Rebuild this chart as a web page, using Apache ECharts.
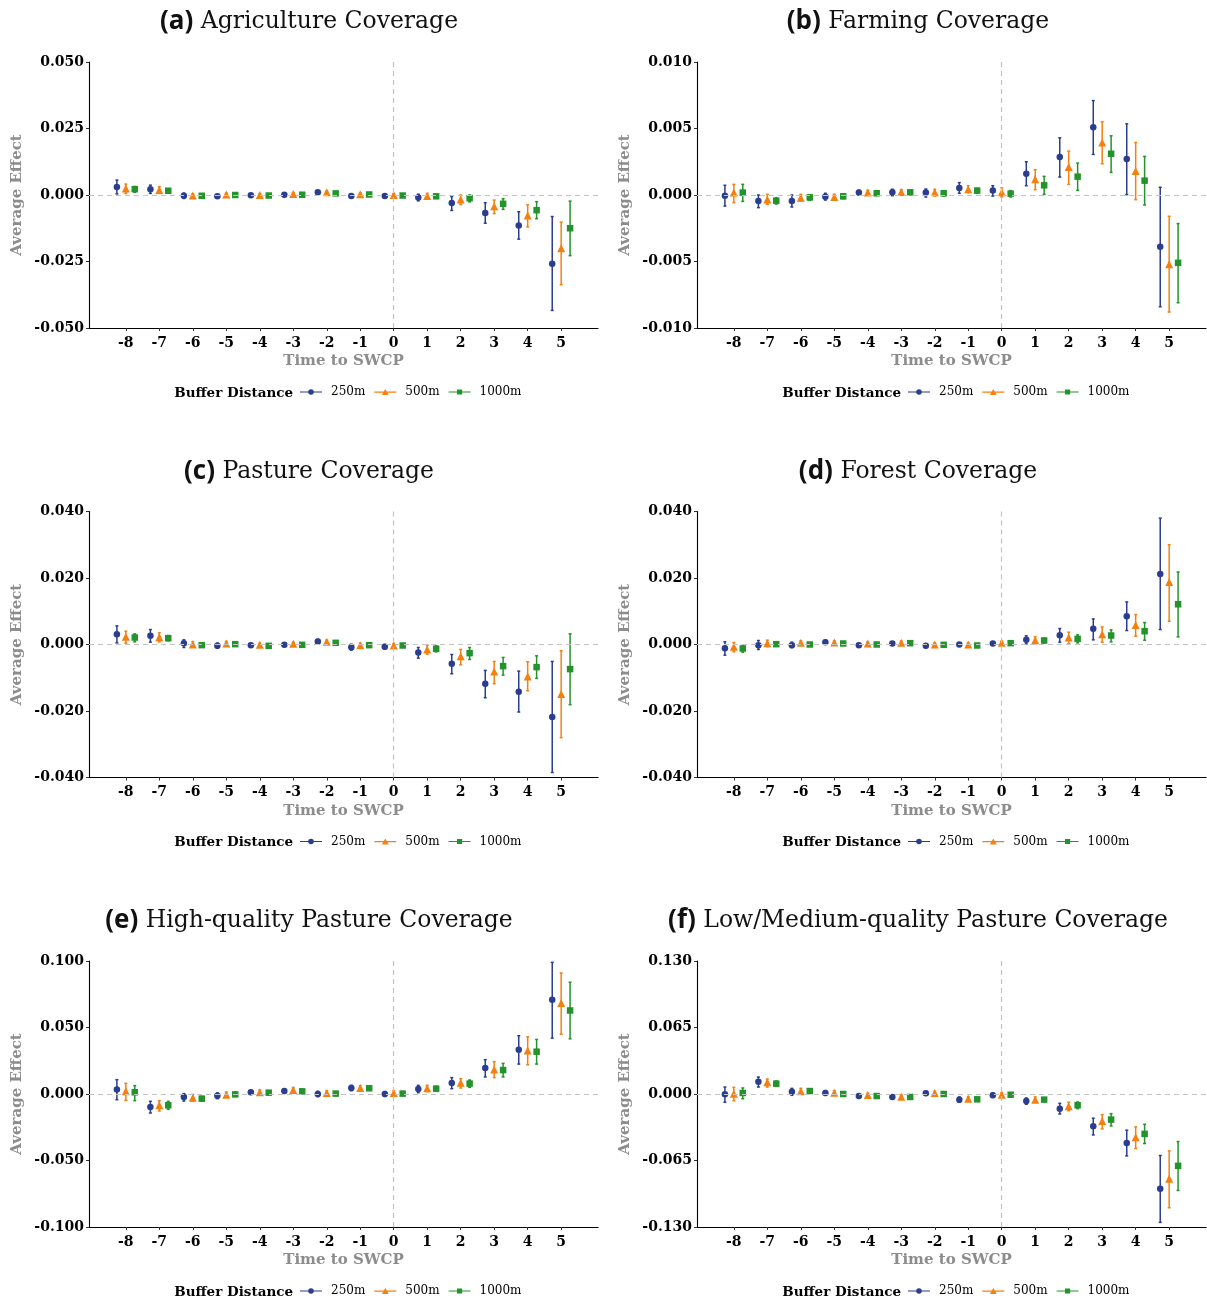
<!DOCTYPE html>
<html>
<head>
<meta charset="utf-8">
<script src="https://cdn.jsdelivr.net/npm/echarts@6/dist/echarts.min.js"></script>
<style>
  html, body { margin: 0; background: #fff; }
  #chart { width: 1207px; height: 1304px; }
</style>
</head>
<body>
<div id="chart"></div>
<script>
// event time and buffer groups
const periods = [-8, -7, -6, -5, -4, -3, -2, -1, 0, 1, 2, 3, 4, 5]
const buffers = ['250m', '500m', '1000m']

// y tick labels per panel
const agriTicks = [-0.05, -0.025, 0, 0.025, 0.05]
const farmTicks = [-0.01, -0.005, 0, 0.005, 0.01]
const pastureTicks = [-0.04, -0.02, 0, 0.02, 0.04]
const forestTicks = [-0.04, -0.02, 0, 0.02, 0.04]
const hqTicks = [-0.1, -0.05, 0, 0.05, 0.1]
const lmqTicks = [-0.13, -0.065, 0, 0.065, 0.13]

// [estimate, ci low, ci high] for each period
const agri250 = [[0.003, 0.0004, 0.0056], [0.0022, 0.0006, 0.0037], [-0.0003, -0.0013, 0.0007], [-0.0005, -0.0011, 0.0001], [-0.0001, -0.0006, 0.0004], [0.0001, -0.0004, 0.0006], [0.001, 0.0004, 0.0016], [-0.0004, -0.001, 0.0002], [-0.0004, -0.001, 0.0002], [-0.0009, -0.0022, 0.0003], [-0.003, -0.0058, -0.0006], [-0.0068, -0.0106, -0.0029], [-0.0115, -0.0166, -0.0063], [-0.0258, -0.0434, -0.0081]]
const agri500 = [[0.0024, 0.0006, 0.0041], [0.0019, 0.0006, 0.0031], [-0.0002, -0.0008, 0.0004], [0.0002, -0.0003, 0.0007], [0, -0.0005, 0.0005], [0.0004, -0.0001, 0.0009], [0.001, 0.0005, 0.0015], [0.0003, -0.0002, 0.0008], [0, -0.0005, 0.0005], [-0.0004, -0.0014, 0.0006], [-0.0017, -0.0036, 0], [-0.0042, -0.007, -0.0019], [-0.0077, -0.012, -0.0037], [-0.02, -0.0337, -0.0102]]
const agri1000 = [[0.0022, 0.001, 0.0032], [0.0016, 0.0009, 0.0023], [-0.0003, -0.0007, 0.0001], [0, -0.0004, 0.0004], [-0.0002, -0.0006, 0.0002], [0.0001, -0.0003, 0.0005], [0.0006, 0.0002, 0.001], [0.0002, -0.0002, 0.0006], [-0.0002, -0.0006, 0.0002], [-0.0005, -0.001, 0], [-0.0012, -0.0026, 0], [-0.0033, -0.0054, -0.0014], [-0.0057, -0.0089, -0.0025], [-0.0125, -0.0228, -0.0023]]

const farm250 = [[-0.00005, -0.00083, 0.00073], [-0.00045, -0.00095, 0], [-0.00045, -0.0009, 0], [-0.00013, -0.00038, 0.00013], [0.00018, 0, 0.00035], [0.0002, -0.00005, 0.00043], [0.00018, -0.00015, 0.00045], [0.00053, 0.00013, 0.00093], [0.00033, -0.00008, 0.0007], [0.0016, 0.0007, 0.0025], [0.00285, 0.00135, 0.0043], [0.0051, 0.00305, 0.0071], [0.0027, 0.00003, 0.00535], [-0.0039, -0.0084, 0.00058]]
const farm500 = [[0.00018, -0.00058, 0.0008], [-0.00033, -0.0007, 0.00005], [-0.0002, -0.00045, 0.00005], [-0.00015, -0.00038, 0.00005], [0.00018, 0, 0.00035], [0.00023, 0.00003, 0.0004], [0.0002, -0.00008, 0.00043], [0.00043, 0.00018, 0.0007], [0.0002, -0.00015, 0.00053], [0.00118, 0.0004, 0.0019], [0.0021, 0.0008, 0.0033], [0.00395, 0.00235, 0.0055], [0.0018, -0.00035, 0.00395], [-0.0052, -0.0088, -0.0016]]
const farm1000 = [[0.00018, -0.00048, 0.0008], [-0.00043, -0.00068, -0.0002], [-0.00018, -0.0004, 0.00003], [-0.0001, -0.00028, 0.00008], [0.00013, -0.00003, 0.00025], [0.0002, 0.00003, 0.00035], [0.00013, -0.00008, 0.0003], [0.00033, 0.00013, 0.0005], [0.0001, -0.00015, 0.00033], [0.00073, 0.00005, 0.0014], [0.00138, 0.00035, 0.0024], [0.0031, 0.0017, 0.00445], [0.00108, -0.00075, 0.0029], [-0.0051, -0.0081, -0.00215]]

const pasture250 = [[0.0031, 0.0005, 0.0056], [0.0026, 0.0007, 0.0045], [0.0004, -0.0009, 0.0014], [-0.0004, -0.0011, 0.0004], [-0.0002, -0.0007, 0.0003], [-0.0001, -0.0006, 0.0004], [0.0009, 0.0003, 0.0015], [-0.0008, -0.0017, 0.0001], [-0.0007, -0.0014, 0], [-0.0024, -0.0041, -0.0009], [-0.0058, -0.0088, -0.003], [-0.0118, -0.016, -0.0078], [-0.0142, -0.0203, -0.008], [-0.0218, -0.0385, -0.0051]]
const pasture500 = [[0.0023, 0.0004, 0.004], [0.0022, 0.0008, 0.0035], [0, -0.0008, 0.0009], [0.0003, -0.0003, 0.0009], [-0.0001, -0.0006, 0.0004], [0.0002, -0.0003, 0.0007], [0.0008, 0.0003, 0.0013], [-0.0002, -0.0008, 0.0004], [-0.0003, -0.0009, 0.0003], [-0.0015, -0.0029, -0.0002], [-0.0035, -0.0061, -0.0015], [-0.0081, -0.0118, -0.0051], [-0.0096, -0.0139, -0.0052], [-0.0149, -0.028, -0.0019]]
const pasture1000 = [[0.0021, 0.0008, 0.0032], [0.0019, 0.0011, 0.0027], [-0.0002, -0.0006, 0.0002], [0.0001, -0.0003, 0.0005], [-0.0004, -0.0008, 0], [-0.0001, -0.0005, 0.0003], [0.0005, 0.0001, 0.0009], [-0.0002, -0.0006, 0.0002], [-0.0003, -0.0007, 0.0001], [-0.0013, -0.0022, -0.0004], [-0.0026, -0.0045, -0.0009], [-0.0065, -0.0092, -0.0039], [-0.0068, -0.0102, -0.0034], [-0.0074, -0.0181, 0.0032]]

const forest250 = [[-0.0011, -0.0032, 0.0008], [-0.0002, -0.0015, 0.0012], [-0.0002, -0.0009, 0.0007], [0.0007, 0.0002, 0.0013], [-0.0002, -0.0007, 0.0003], [0.0003, -0.0002, 0.0008], [-0.0004, -0.0009, 0.0001], [0, -0.0005, 0.0005], [0.0003, -0.0002, 0.0008], [0.0014, 0.0002, 0.0026], [0.0028, 0.0007, 0.0048], [0.0047, 0.0014, 0.0077], [0.0085, 0.0042, 0.0128], [0.0212, 0.0045, 0.038]]
const forest500 = [[-0.0007, -0.0022, 0.0006], [0.0004, -0.0006, 0.0013], [0.0005, -0.0002, 0.0011], [0.0006, 0.0001, 0.0011], [0.0003, -0.0002, 0.0008], [0.0005, 0, 0.001], [0, -0.0005, 0.0005], [0, -0.0005, 0.0005], [0.0005, 0, 0.001], [0.0013, 0.0003, 0.0023], [0.0021, 0.0002, 0.0037], [0.0031, 0.0007, 0.0053], [0.0059, 0.0025, 0.009], [0.0188, 0.007, 0.03]]
const forest1000 = [[-0.0012, -0.0023, -0.0003], [0.0001, -0.0003, 0.0005], [0, -0.0004, 0.0004], [0.0003, -0.0001, 0.0007], [0, -0.0004, 0.0004], [0.0004, 0, 0.0008], [-0.0001, -0.0005, 0.0003], [-0.0003, -0.0007, 0.0001], [0.0004, 0, 0.0008], [0.0012, 0.0005, 0.0019], [0.0017, 0.0005, 0.0029], [0.0027, 0.0008, 0.0044], [0.004, 0.0013, 0.0066], [0.0121, 0.0023, 0.0218]]

const hq250 = [[0.0033, -0.0043, 0.0108], [-0.0098, -0.0143, -0.0055], [-0.0023, -0.0053, 0.0003], [-0.0013, -0.0035, 0.0008], [0.0013, -0.0003, 0.0028], [0.0023, 0.0005, 0.0038], [0, -0.002, 0.002], [0.0045, 0.0025, 0.0065], [0, -0.0018, 0.0018], [0.0038, 0.001, 0.0065], [0.0083, 0.004, 0.0123], [0.0195, 0.0128, 0.0258], [0.0333, 0.0225, 0.0438], [0.0708, 0.042, 0.099]]
const hq500 = [[0.002, -0.0048, 0.008], [-0.0085, -0.0128, -0.005], [-0.0028, -0.0055, -0.0003], [-0.0005, -0.0025, 0.0015], [0.0013, -0.0005, 0.003], [0.003, 0.0013, 0.0048], [0.0008, -0.001, 0.0025], [0.0045, 0.0028, 0.0063], [0.0008, -0.001, 0.0025], [0.0043, 0.0018, 0.0065], [0.0085, 0.0045, 0.0115], [0.0185, 0.0123, 0.0243], [0.0328, 0.022, 0.043], [0.0685, 0.045, 0.091]]
const hq1000 = [[0.0013, -0.005, 0.0063], [-0.0085, -0.0115, -0.0055], [-0.0035, -0.0053, -0.0018], [-0.0003, -0.0018, 0.0013], [0.001, -0.0005, 0.0025], [0.002, 0.0005, 0.0035], [0.0003, -0.0012, 0.0018], [0.0043, 0.0028, 0.0058], [0.0003, -0.0012, 0.0018], [0.004, 0.0023, 0.0058], [0.0078, 0.005, 0.0105], [0.018, 0.0128, 0.023], [0.0318, 0.0225, 0.041], [0.0628, 0.0415, 0.084]]

const lmq250 = [[-0.0003, -0.0081, 0.0068], [0.012, 0.0068, 0.0166], [0.0023, -0.0013, 0.0055], [0.001, -0.0013, 0.0033], [-0.002, -0.0036, -0.0004], [-0.0029, -0.0045, -0.0013], [0.0007, -0.0013, 0.0026], [-0.0055, -0.0081, -0.0029], [-0.0013, -0.0033, 0.0007], [-0.0068, -0.01, -0.0039], [-0.0143, -0.0195, -0.0091], [-0.0315, -0.04, -0.0237], [-0.0478, -0.0605, -0.0354], [-0.0926, -0.1255, -0.0601]]
const lmq500 = [[0.0003, -0.0065, 0.0065], [0.0114, 0.0068, 0.0146], [0.0026, -0.0003, 0.0055], [0.0013, -0.0007, 0.0033], [-0.001, -0.0026, 0.0007], [-0.0026, -0.0042, -0.001], [0.001, -0.0007, 0.0026], [-0.0046, -0.0065, -0.0026], [-0.0007, -0.0026, 0.0013], [-0.0055, -0.0081, -0.0029], [-0.012, -0.0163, -0.0081], [-0.0263, -0.0341, -0.0202], [-0.0423, -0.0533, -0.0322], [-0.0829, -0.1112, -0.0556]]
const lmq1000 = [[0.001, -0.0046, 0.0059], [0.0101, 0.0075, 0.0127], [0.0029, 0.001, 0.0049], [0, -0.0016, 0.0016], [-0.002, -0.0036, -0.0004], [-0.0029, -0.0045, -0.0013], [0, -0.0016, 0.0016], [-0.0052, -0.0068, -0.0036], [-0.0007, -0.0023, 0.0009], [-0.0055, -0.0071, -0.0039], [-0.011, -0.0143, -0.0078], [-0.025, -0.0312, -0.0192], [-0.039, -0.0484, -0.0296], [-0.0702, -0.0943, -0.0465]]

const panels = [
  { tag: '(a)', name: 'Agriculture Coverage', ticks: agriTicks, rows: [agri250, agri500, agri1000] },
  { tag: '(b)', name: 'Farming Coverage', ticks: farmTicks, rows: [farm250, farm500, farm1000] },
  { tag: '(c)', name: 'Pasture Coverage', ticks: pastureTicks, rows: [pasture250, pasture500, pasture1000] },
  { tag: '(d)', name: 'Forest Coverage', ticks: forestTicks, rows: [forest250, forest500, forest1000] },
  { tag: '(e)', name: 'High-quality Pasture Coverage', ticks: hqTicks, rows: [hq250, hq500, hq1000] },
  { tag: '(f)', name: 'Low/Medium-quality Pasture Coverage', ticks: lmqTicks, rows: [lmq250, lmq500, lmq1000] }
]

const colors = ['#2b3d8f', '#f5800f', '#23932b']
const symbols = ['circle', 'triangle', 'rect']
const symbolSizes = [6.5, 8, 6.5]
const dodge = [-0.2667, 0, 0.2667]
const serif = 'DejaVu Serif'
const grey = '#8c8c8c'

// legend icons: short line with the marker on top
const legendIcons = [
  'path://M0,3 L22,3 L22,4.2 L0,4.2 Z M8.2,3.6 A2.8,2.8 0 1 1 13.8,3.6 A2.8,2.8 0 1 1 8.2,3.6 Z',
  'path://M0,3 L22,3 L22,4.2 L0,4.2 Z M11,0.4 L14.4,6.6 L7.6,6.6 Z',
  'path://M0,3 L22,3 L22,4.2 L0,4.2 Z M8.4,1 L13.6,1 L13.6,6.2 L8.4,6.2 Z'
]

function renderErrorBar(params, api) {
  const x = api.value(0)
  const lo = api.coord([x, api.value(1)])
  const hi = api.coord([x, api.value(2)])
  const color = api.visual('color')
  const cap = 1.5
  const style = { stroke: color, lineWidth: 1.5 }
  return {
    type: 'group',
    children: [
      { type: 'line', shape: { x1: lo[0], y1: lo[1], x2: hi[0], y2: hi[1] }, style },
      { type: 'line', shape: { x1: lo[0] - cap, y1: lo[1], x2: lo[0] + cap, y2: lo[1] }, style },
      { type: 'line', shape: { x1: hi[0] - cap, y1: hi[1], x2: hi[0] + cap, y2: hi[1] }, style }
    ]
  }
}

const colLeft = [89, 697]
const rowTop = [62, 511.5, 961]
const plotW = 509
const plotH = 266

const grid = []
const xAxis = []
const yAxis = []
const series = []
const title = []
const legend = []
const graphic = []

panels.forEach((p, i) => {
  const col = i % 2
  const row = Math.floor(i / 2)
  const left = colLeft[col]
  const top = rowTop[row]

  grid.push({ left: left, top: top, width: plotW, height: plotH })

  title.push({
    text: '{b|' + p.tag + '}{t| ' + p.name + '}',
    left: col === 0 ? 304 : 913,
    top: top - 58,
    textAlign: 'center',
    textStyle: {
      rich: {
        b: { fontFamily: 'Open Sans', fontWeight: 'bold', fontSize: 26, color: '#111' },
        t: { fontFamily: serif, fontWeight: 'normal', fontSize: 23.5, color: '#111' }
      }
    }
  })

  xAxis.push({
    type: 'value',
    gridIndex: i,
    min: -9.1,
    max: 6.1,
    name: 'Time to SWCP',
    nameLocation: 'middle',
    nameGap: 26,
    nameTextStyle: { fontFamily: serif, fontWeight: 'bold', fontSize: 15, color: grey },
    axisLine: { onZero: false, lineStyle: { color: '#000', width: 1.1 } },
    axisTick: { customValues: periods, length: 3, lineStyle: { color: '#333' } },
    axisLabel: {
      customValues: periods,
      margin: 8,
      formatter: v => String(v),
      fontFamily: serif, fontWeight: 'bold', fontSize: 14, color: '#000'
    },
    splitLine: { show: false }
  })

  yAxis.push({
    type: 'value',
    gridIndex: i,
    min: p.ticks[0],
    max: p.ticks[p.ticks.length - 1],
    name: 'Average Effect',
    nameLocation: 'middle',
    nameGap: 64,
    nameTextStyle: { fontFamily: serif, fontWeight: 'bold', fontSize: 15, color: grey },
    axisLine: { show: true, onZero: false, lineStyle: { color: '#000', width: 1.1 } },
    axisTick: { show: true, customValues: p.ticks, length: 3, lineStyle: { color: '#333' } },
    axisLabel: {
      customValues: p.ticks,
      margin: 5,
      formatter: v => v.toFixed(3),
      fontFamily: serif, fontWeight: 'bold', fontSize: 14, color: '#000'
    },
    splitLine: { show: false }
  })

  // dashed reference lines at 0
  series.push({
    type: 'scatter',
    xAxisIndex: i,
    yAxisIndex: i,
    data: [],
    silent: true,
    markLine: {
      silent: true,
      symbol: ['none', 'none'],
      label: { show: false },
      lineStyle: { color: '#c4c4c4', type: [5, 4], width: 1.2 },
      data: [{ yAxis: 0 }, { xAxis: 0 }]
    }
  })

  p.rows.forEach((rows, k) => {
    series.push({
      type: 'custom',
      xAxisIndex: i,
      yAxisIndex: i,
      silent: true,
      itemStyle: { color: colors[k] },
      renderItem: renderErrorBar,
      encode: { x: 0, y: [1, 2] },
      data: rows.map((r, j) => [periods[j] + dodge[k], r[1], r[2]])
    })
    series.push({
      type: 'scatter',
      name: buffers[k],
      xAxisIndex: i,
      yAxisIndex: i,
      symbol: symbols[k],
      symbolSize: symbolSizes[k],
      itemStyle: { color: colors[k], opacity: 1 },
      data: rows.map((r, j) => [periods[j] + dodge[k], r[0]])
    })
  })

  const legendY = top + 331
  graphic.push({
    type: 'text',
    x: left + 204,
    y: legendY,
    style: {
      text: 'Buffer Distance',
      textAlign: 'right',
      textVerticalAlign: 'middle',
      font: 'bold 13.5px "DejaVu Serif"',
      fill: '#000'
    }
  })
  legend.push({
    left: left + 211,
    top: legendY - 7,
    padding: 0,
    itemWidth: 22,
    itemHeight: 7,
    itemGap: 9,
    selectedMode: false,
    textStyle: { fontFamily: serif, fontSize: 12, color: '#000', padding: [0, 0, 0, 4] },
    data: buffers.map((b, k) => ({ name: b, icon: legendIcons[k] }))
  })
})

const chart = echarts.init(document.getElementById('chart'))
chart.setOption({
  backgroundColor: '#fff',
  animation: false,
  title: title,
  legend: legend,
  grid: grid,
  xAxis: xAxis,
  yAxis: yAxis,
  graphic: graphic,
  series: series
})
</script>
</body>
</html>
